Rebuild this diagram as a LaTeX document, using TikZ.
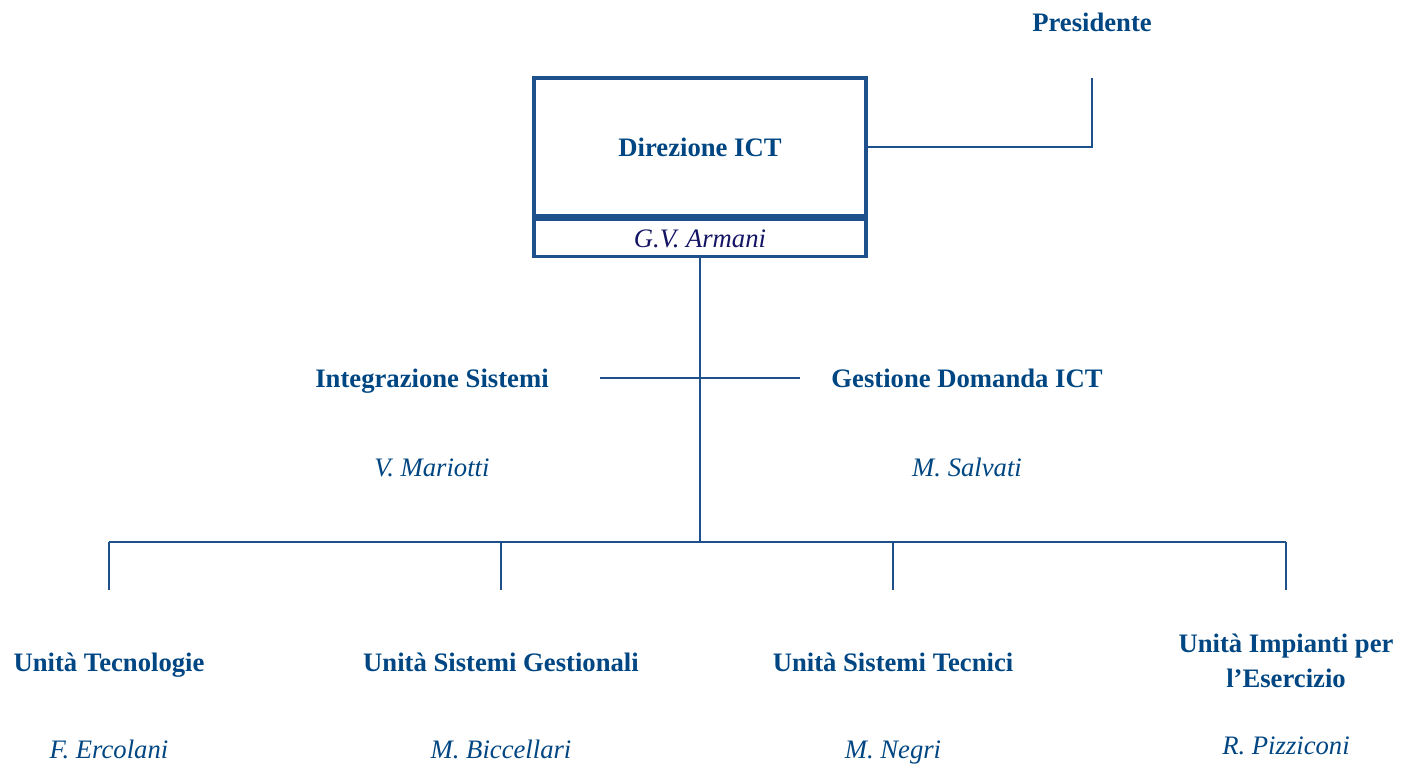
\documentclass[tikz,border=0pt]{standalone}
\usepackage{fontspec}
\setmainfont{Liberation Serif}
\usetikzlibrary{positioning}
\begin{document}
\begin{tikzpicture}[x=0.75pt, y=-0.75pt, every node/.style={font=\fontsize{20}{26}\selectfont}]
        \definecolor{orgblue}{RGB}{0,70,130}
        \definecolor{linkblue}{RGB}{30,80,140}
        \definecolor{navy}{RGB}{20,20,100}
        \tikzset{
          wrapunit/.style={text=orgblue, font=\fontsize{20}{26}\selectfont\bfseries, align=center},
          unit/.style={wrapunit, text height=17pt, text depth=2.5pt},
          person/.style={text=orgblue, font=\fontsize{20}{26}\selectfont\itshape, text height=17pt, text depth=2.5pt},
          link/.style={draw=linkblue, line width=1.5pt},
          frame/.style={draw=linkblue, line width=2.6pt, inner sep=0pt}
        }
        \useasboundingbox (0,0) rectangle (1405,772);
        \node[frame, minimum width=249pt, minimum height=103.5pt, unit] (dir) at (700,147) {Direzione ICT};
        \node[frame, minimum width=249pt, minimum height=27.75pt, below=0pt of dir, person, text=navy] (armani) {G.V. Armani};
        \node[unit] (pres) at (1092,22) {Presidente};
        \coordinate (presdrop) at (1092,78);
        \draw[link] (presdrop) |- (dir.east);
        \node[unit] (integr) at (432,378) {Integrazione Sistemi};
        \node[person] (mariotti) at (432,467) {V. Mariotti};
        \node[unit] (domanda) at (967,378) {Gestione Domanda ICT};
        \node[person] (salvati) at (967,467) {M. Salvati};
        \coordinate (staffl) at (600,378);
        \coordinate (staffr) at (800,378);
        \draw[link] (staffl) -- (staffr);
        \coordinate (bus) at (700,542);
        \draw[link] (armani.south) -- (bus);
        \node[unit] (tecno) at (109,662) {Unità Tecnologie};
        \node[person] (ercolani) at (109,749) {F. Ercolani};
        \node[unit] (gest) at (501,662) {Unità Sistemi Gestionali};
        \node[person] (biccellari) at (501,749) {M. Biccellari};
        \node[unit] (tecnici) at (893,662) {Unità Sistemi Tecnici};
        \node[person] (negri) at (893,749) {M. Negri};
        \node[wrapunit] (impianti) at (1286,661) {Unità Impianti per\\l’Esercizio};
        \node[person] (pizziconi) at (1286,745) {R. Pizziconi};
        \foreach \u/\x in {tecno/109, gest/501, tecnici/893, impianti/1286} {
          \coordinate (\u top) at (\x,542);
          \coordinate (\u end) at (\x,590);
        }
        \draw[link] (tecnotop) -- (impiantitop);
        \foreach \u in {tecno, gest, tecnici, impianti}
          \draw[link] (\u top) -- (\u end);
      \end{tikzpicture}
\end{document}
